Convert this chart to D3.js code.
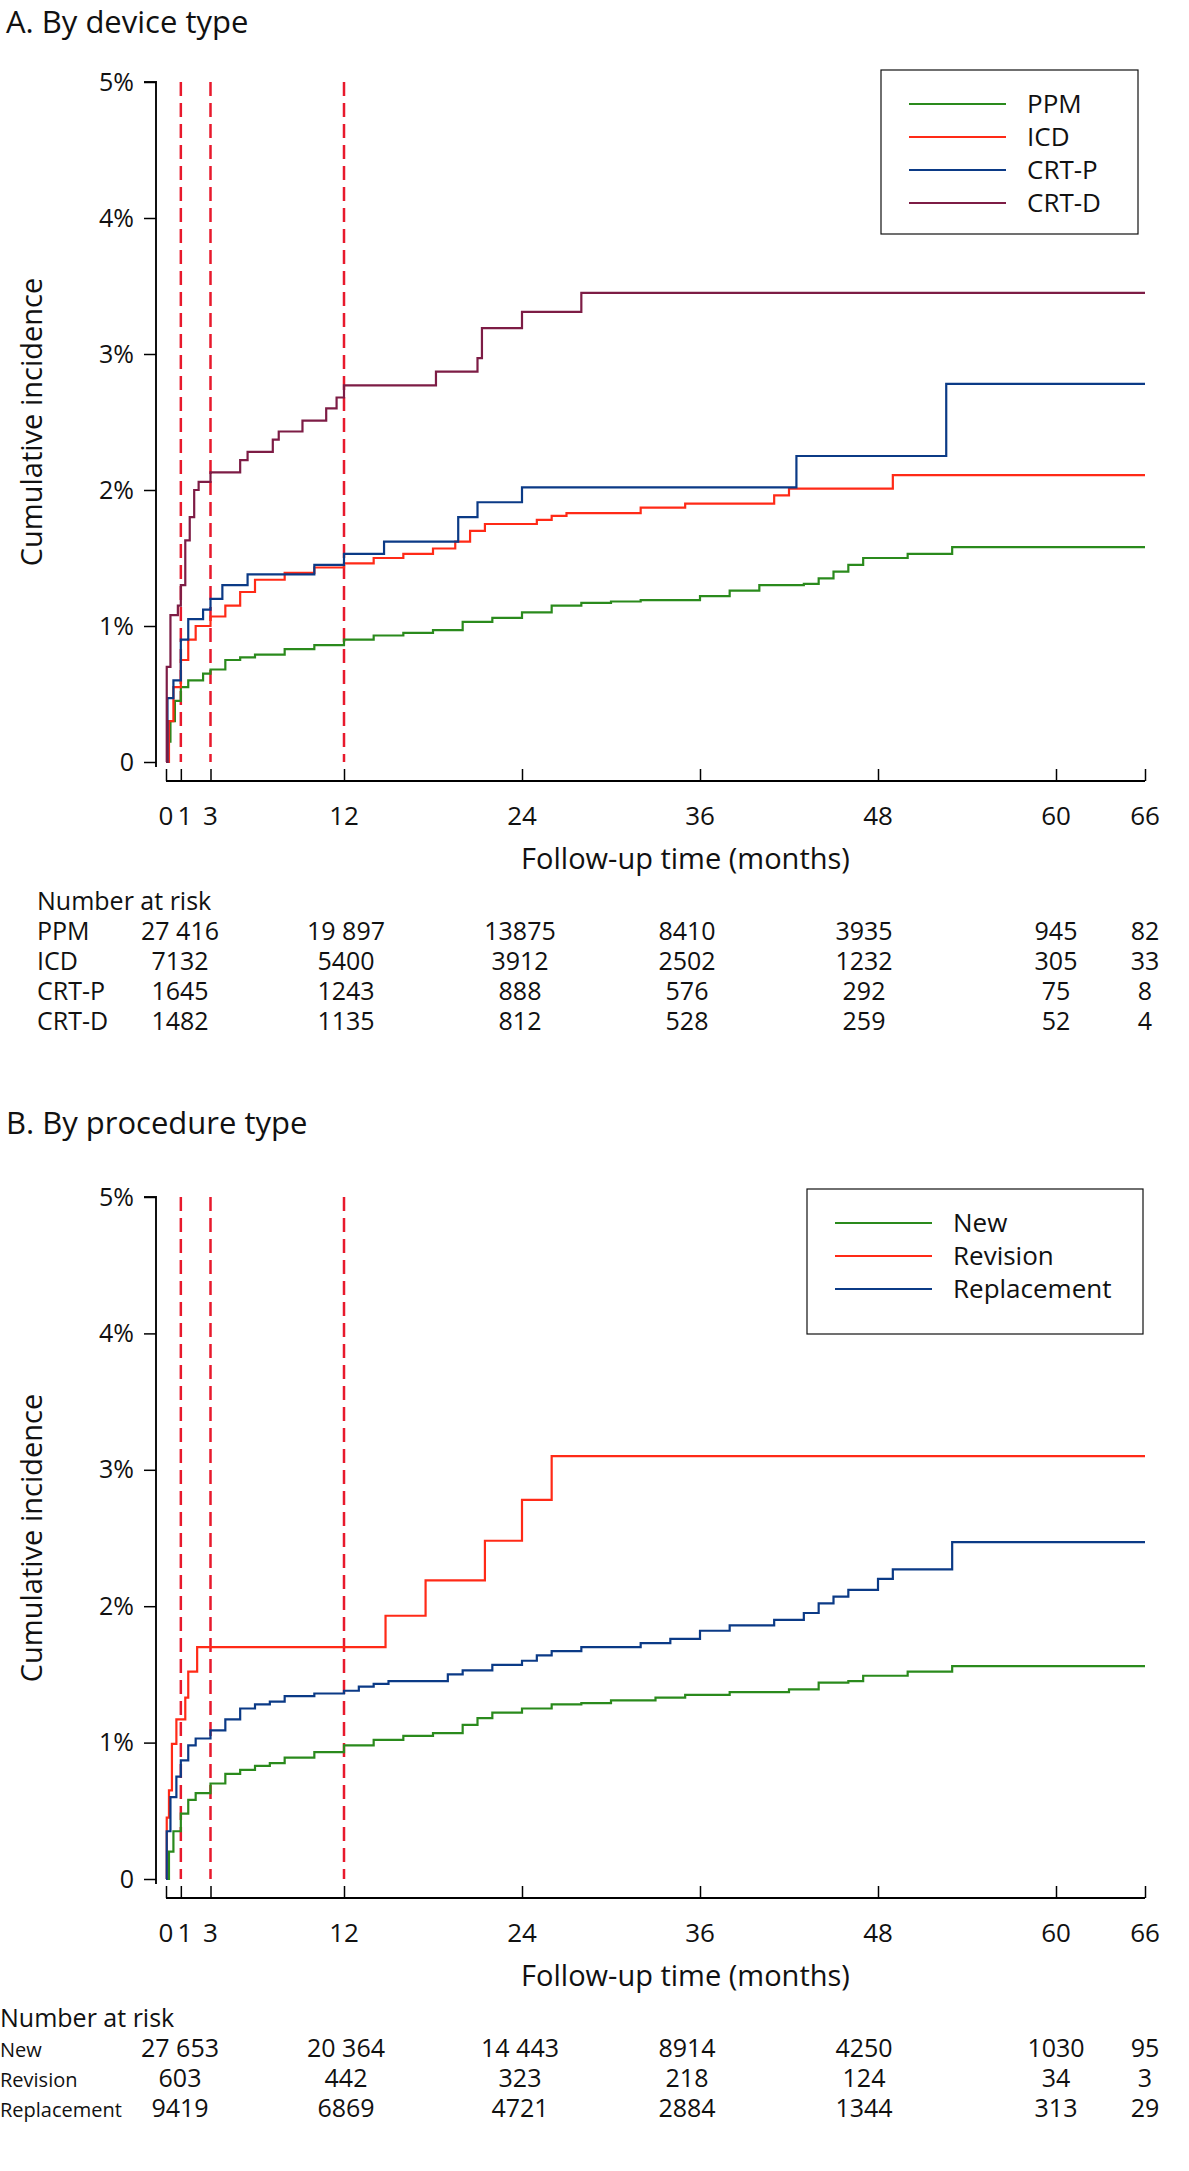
<!DOCTYPE html>
<html><head><meta charset="utf-8">
<script src="https://cdn.jsdelivr.net/npm/d3@7"></script>
<style>body{margin:0;background:#fff}text{font-family:"Open Sans","Noto Sans",sans-serif;fill:#111}</style>
</head><body><svg id="c" width="1189" height="2171"></svg>
<script>
const xTicks=[0,1,3,12,24,36,48,60,66];
const yTicks=[0,1,2,3,4,5];
const landmarks=[1,3,12];
const ppm=[[0,0],[0.1,0.15],[0.3,0.3],[0.6,0.45],[1,0.55],[1.5,0.6],[2.5,0.65],[3,0.68],[4,0.75],[5,0.77],[6,0.79],[8,0.83],[10,0.86],[12,0.9],[14,0.93],[16,0.95],[18,0.97],[20,1.03],[22,1.06],[24,1.1],[26,1.15],[28,1.17],[30,1.18],[32,1.19],[36,1.22],[38,1.26],[40,1.3],[43,1.31],[44,1.35],[45,1.4],[46,1.45],[47,1.5],[50,1.53],[53,1.58],[66,1.58]];
const icd=[[0,0],[0.2,0.3],[0.5,0.55],[1,0.75],[1.5,0.9],[2,1.0],[3,1.07],[4,1.15],[5,1.25],[6,1.34],[8,1.39],[10,1.43],[12,1.46],[14,1.5],[16,1.53],[18,1.57],[19.5,1.62],[20.5,1.7],[21.5,1.75],[25,1.78],[26,1.81],[27,1.83],[32,1.87],[35,1.9],[41,1.96],[42,2.01],[49,2.11],[66,2.11]];
const crtp=[[0,0],[0.1,0.47],[0.5,0.6],[1,0.9],[1.5,1.05],[2.5,1.12],[3,1.2],[3.8,1.3],[5.5,1.38],[10,1.45],[12,1.53],[14.7,1.62],[19.7,1.8],[21,1.91],[24,2.02],[42.5,2.25],[52.6,2.78],[66,2.78]];
const crtd=[[0,0],[0.05,0.7],[0.3,1.08],[0.8,1.15],[1,1.3],[1.3,1.63],[1.6,1.8],[1.9,2.0],[2.2,2.06],[3,2.13],[5,2.22],[5.5,2.28],[7.2,2.37],[7.6,2.43],[9.2,2.51],[10.8,2.6],[11.5,2.68],[12,2.77],[18.2,2.87],[21,2.97],[21.3,3.19],[24,3.31],[28,3.45],[66,3.45]];
const newP=[[0,0],[0.2,0.2],[0.5,0.35],[1,0.48],[1.5,0.58],[2,0.63],[3,0.7],[4,0.77],[5,0.8],[6,0.83],[7,0.85],[8,0.89],[10,0.93],[12,0.98],[14,1.02],[16,1.05],[18,1.07],[20,1.13],[21,1.18],[22,1.22],[24,1.25],[26,1.28],[28,1.29],[30,1.31],[33,1.33],[35,1.35],[38,1.37],[42,1.39],[44,1.44],[46,1.45],[47,1.49],[50,1.52],[53,1.56],[66,1.56]];
const revision=[[0,0],[0.05,0.45],[0.2,0.65],[0.4,0.99],[0.7,1.17],[1.3,1.33],[1.5,1.52],[2.1,1.7],[14.8,1.93],[17.5,2.19],[21.5,2.48],[24,2.78],[26,3.1],[66,3.1]];
const replacement=[[0,0],[0.05,0.35],[0.3,0.6],[0.7,0.75],[1,0.87],[1.5,0.98],[2,1.03],[3,1.09],[4,1.17],[5,1.25],[6,1.28],[7,1.3],[8,1.34],[10,1.36],[12,1.38],[13,1.41],[14,1.43],[15,1.45],[19,1.5],[20,1.53],[22,1.57],[24,1.6],[25,1.64],[26,1.67],[28,1.7],[32,1.73],[34,1.76],[36,1.82],[38,1.86],[41,1.9],[43,1.95],[44,2.02],[45,2.07],[46,2.12],[48,2.2],[49,2.27],[53,2.47],[66,2.47]];
const riskCols=[180,346,520,687,864,1056,1145];
const riskA=[["PPM",["27 416","19 897","13875","8410","3935","945","82"]],["ICD",["7132","5400","3912","2502","1232","305","33"]],["CRT-P",["1645","1243","888","576","292","75","8"]],["CRT-D",["1482","1135","812","528","259","52","4"]]];
const riskB=[["New",["27 653","20 364","14 443","8914","4250","1030","95"]],["Revision",["603","442","323","218","124","34","3"]],["Replacement",["9419","6869","4721","2884","1344","313","29"]]];
const C={g:"#2a8a1c",r:"#ff2a17",b:"#0b3a86",m:"#7d1c45"};

const svg=d3.select("#c");
const x=d3.scaleLinear().domain([0,66]).range([166,1145]);
function panel(o){
  const y=d3.scaleLinear().domain([0,5]).range([o.y0,o.y5]);
  const g=svg.append("g");
  g.append("text").attr("x",6).attr("y",o.titleY).attr("font-size",31).text(o.title);
  const ya=g.append("g").attr("transform","translate(156,0)").call(d3.axisLeft(y).tickValues(yTicks).tickSize(12).tickFormat(d=>d===0?"0":d+"%"));
  ya.select(".domain").attr("stroke","#111").attr("stroke-width",2).attr("d",`M-12,${y(5)}H0V${y(0)+5}`);
  ya.selectAll("text").attr("font-size",25).attr("x",-22);
  ya.selectAll("line").attr("stroke-width",1.5);
  const xa=g.append("g").attr("transform",`translate(0,${o.ax})`).call(d3.axisTop(x).tickValues(xTicks).tickSize(12).tickFormat(""));
  xa.select(".domain").attr("stroke-width",2).attr("d",`M${x(0)},0H${x(66)}`);
  xa.selectAll("line").attr("stroke-width",1.5);
  const lab={0:0,1:4,3:0};
  xTicks.forEach(t=>g.append("text").attr("x",x(t)+(lab[t]||0)).attr("y",o.ax+44).attr("text-anchor","middle").attr("font-size",26).text(t));
  g.append("text").attr("x",(x(0)+x(66))/2+30).attr("y",o.ax+88).attr("text-anchor","middle").attr("font-size",29).text("Follow-up time (months)");
  g.append("text").attr("transform",`translate(42,${(y(0)+y(5))/2}) rotate(-90)`).attr("text-anchor","middle").attr("font-size",29).text("Cumulative incidence");
  landmarks.forEach(m=>g.append("line").attr("x1",x(m)).attr("x2",x(m)).attr("y1",y(5)).attr("y2",y(0)).attr("stroke","#e8192c").attr("stroke-width",2.5).attr("stroke-dasharray","14,7"));
  const line=d3.line().x(d=>x(d[0])).y(d=>y(d[1])).curve(d3.curveStepAfter);
  o.series.forEach(s=>g.append("path").attr("d",line(s.d)).attr("fill","none").attr("stroke",s.c).attr("stroke-width",2.2));
  const L=o.leg;
  g.append("rect").attr("x",L.x).attr("y",L.y).attr("width",L.w).attr("height",L.h).attr("fill","#fff").attr("stroke","#111").attr("stroke-width",1.2);
  o.series.forEach((s,i)=>{
    const yy=L.y+L.first+i*L.step;
    g.append("line").attr("x1",L.x+L.l1).attr("x2",L.x+L.l2).attr("y1",yy).attr("y2",yy).attr("stroke",s.c).attr("stroke-width",2);
    g.append("text").attr("x",L.x+L.tx).attr("y",yy+9).attr("font-size",26).text(s.n);
  });
  g.append("text").attr("x",o.rx).attr("y",o.ry).attr("font-size",o.hf).text("Number at risk");
  o.risk.forEach((r,i)=>{
    const yy=o.ry+o.rs*(i+1);
    g.append("text").attr("x",o.rx).attr("y",yy).attr("font-size",o.lf).text(r[0]);
    r[1].forEach((v,j)=>g.append("text").attr("x",riskCols[j]).attr("y",yy).attr("text-anchor","middle").attr("font-size",25).text(v));
  });
}
panel({title:"A.  By device type",titleY:33,y0:762,y5:82,ax:781,
  series:[{n:"PPM",c:C.g,d:ppm},{n:"ICD",c:C.r,d:icd},{n:"CRT-P",c:C.b,d:crtp},{n:"CRT-D",c:C.m,d:crtd}],
  leg:{x:881,y:70,w:257,h:164,first:34,step:33,l1:28,l2:125,tx:146},
  risk:riskA,rx:37,ry:910,rs:30,hf:25,lf:25});
panel({title:"B.  By procedure type",titleY:1134,y0:1879,y5:1197,ax:1898,
  series:[{n:"New",c:C.g,d:newP},{n:"Revision",c:C.r,d:revision},{n:"Replacement",c:C.b,d:replacement}],
  leg:{x:807,y:1189,w:336,h:145,first:34,step:33,l1:28,l2:125,tx:146},
  risk:riskB,rx:0,ry:2027,rs:30,hf:25,lf:20});
</script></body></html>
